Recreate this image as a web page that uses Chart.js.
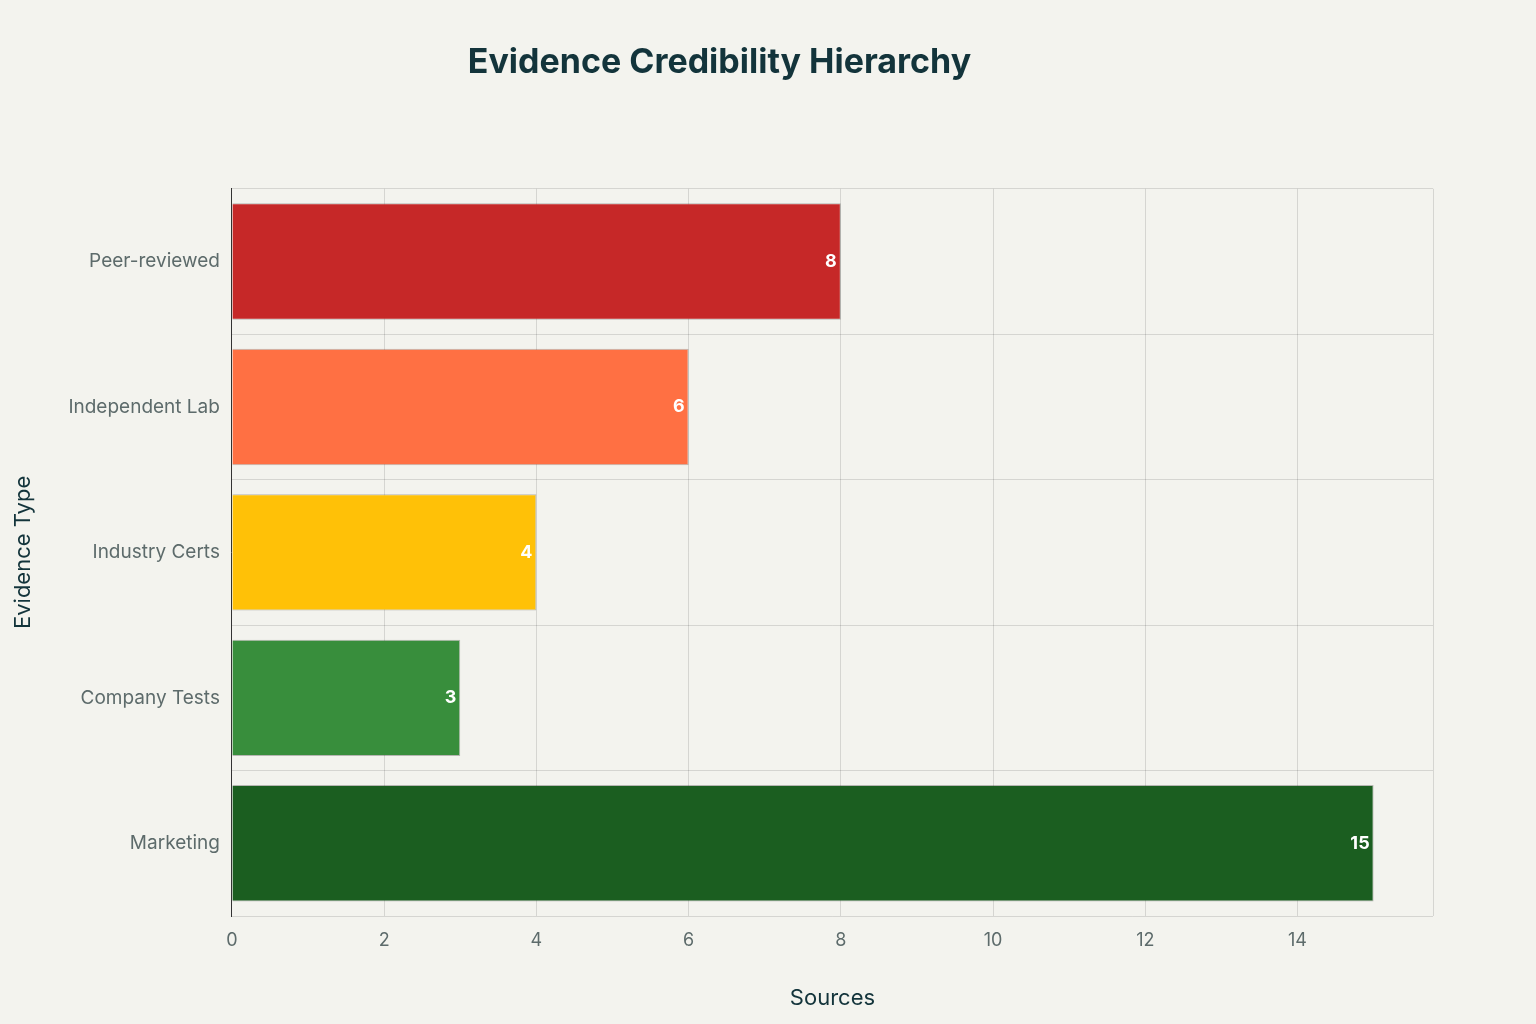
<!DOCTYPE html>
<html>
<head>
<meta charset="utf-8">
<script src="https://cdn.jsdelivr.net/npm/chart.js@4/dist/chart.umd.min.js"></script>
<style>
  html, body { margin: 0; padding: 0; background: #f3f3ee; }
  #wrap { width: 1536px; height: 1024px; }
</style>
</head>
<body>
<div id="wrap"><canvas id="chart"></canvas></div>
<script>
  // Chart data
  const categories = ['Peer-reviewed', 'Independent Lab', 'Industry Certs', 'Company Tests', 'Marketing'];
  const sources = [8, 6, 4, 3, 15];
  const barColors = ['#c62828', '#ff7043', '#ffc107', '#388e3c', '#1b5e20'];

  // white value labels inside the bar end
  const valueLabels = {
    id: 'valueLabels',
    afterDatasetsDraw(chart) {
      const ctx = chart.ctx;
      chart.getDatasetMeta(0).data.forEach((bar, i) => {
        ctx.save();
        ctx.font = 'bold 18px Inter, sans-serif';
        ctx.fillStyle = '#ffffff';
        ctx.textAlign = 'right';
        ctx.textBaseline = 'middle';
        ctx.fillText(String(sources[i]), bar.x - 4, bar.y);
        ctx.restore();
      });
    }
  };

  new Chart(document.getElementById('chart'), {
    type: 'bar',
    data: {
      labels: categories,
      datasets: [{
        label: 'Sources',
        data: sources,
        backgroundColor: barColors,
        borderColor: 'rgba(0,0,0,0.25)',
        borderWidth: 1,
        categoryPercentage: 0.8,
        barPercentage: 1
      }]
    },
    options: {
      indexAxis: 'y',
      responsive: true,
      maintainAspectRatio: false,
      animation: false,
      layout: { padding: { left: 6, right: 103, bottom: 8 } },
      plugins: {
        legend: { display: false },
        tooltip: { enabled: false },
        title: {
          display: true,
          text: 'Evidence Credibility Hierarchy',
          color: '#13343b',
          font: { family: 'Inter, sans-serif', size: 34, weight: 'bold' },
          padding: { top: 42, bottom: 106 }
        }
      },
      scales: {
        x: {
          min: 0,
          max: 15.78,
          grid: { color: 'rgba(0,0,0,0.12)', drawTicks: false },
          border: { display: false },
          ticks: {
            stepSize: 2,
            padding: 14,
            color: '#5d6b6b',
            font: { family: 'Inter, sans-serif', size: 18 },
            callback: v => (v % 2 === 0 ? v : '')
          },
          title: {
            display: true,
            text: 'Sources',
            color: '#13343b',
            font: { family: 'Inter, sans-serif', size: 22 },
            padding: { top: 20 }
          }
        },
        y: {
          grid: { color: 'rgba(0,0,0,0.12)', drawTicks: false },
          border: { display: true, color: '#333333' },
          ticks: {
            padding: 12,
            color: '#5d6b6b',
            font: { family: 'Inter, sans-serif', size: 19 }
          },
          title: {
            display: true,
            text: 'Evidence Type',
            color: '#13343b',
            font: { family: 'Inter, sans-serif', size: 22 },
            padding: { bottom: 20 }
          }
        }
      }
    },
    plugins: [valueLabels]
  });
</script>
</body>
</html>
